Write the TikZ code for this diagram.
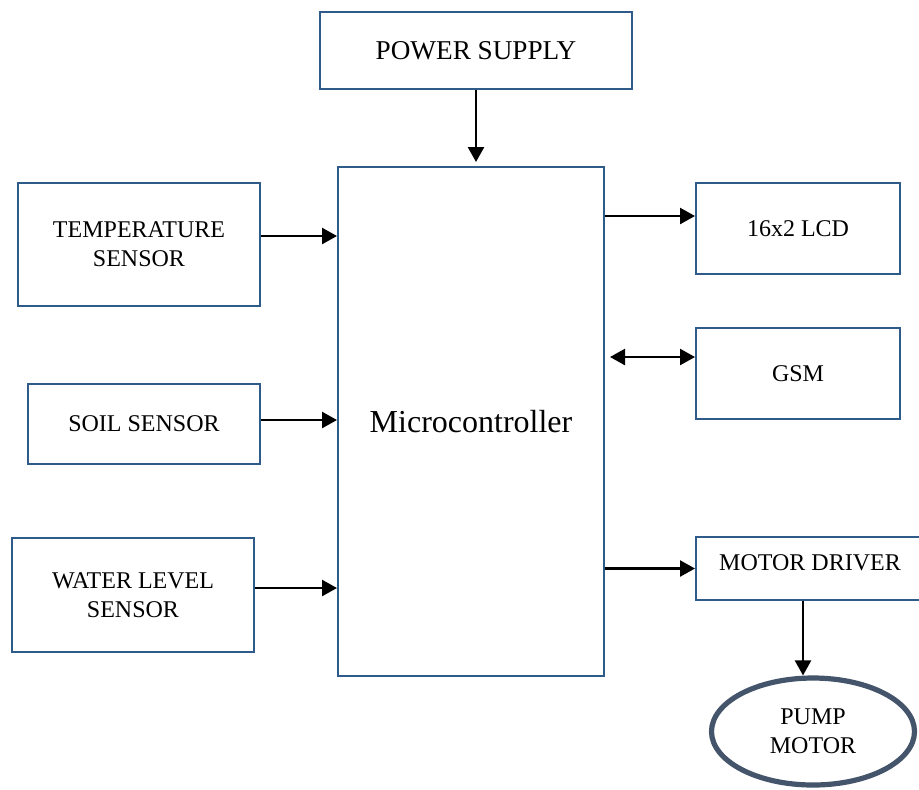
\documentclass[tikz,border=0pt]{standalone}
\usepackage{fontspec}
\setmainfont{Liberation Serif}
\usetikzlibrary{arrows.meta,shapes.geometric}
\definecolor{Frame}{HTML}{2F5B8A}
\definecolor{Slate}{HTML}{44546A}

\begin{document}
\begin{tikzpicture}[x=0.5pt,y=-0.5pt,font=\fontsize{12}{14.5}\selectfont,
  block/.style={draw=Frame,line width=1pt,rectangle,align=center,inner sep=2pt},
  link/.style={-{Triangle[length=7.5pt,width=8pt]},line width=1.2pt}]
\clip (0,0) rectangle (919,789);
\node[block,minimum width=156pt,minimum height=38.5pt,font=\fontsize{13.6}{16}\selectfont] (power) at (476,50.5){POWER SUPPLY};
\node[block,minimum width=133pt,minimum height=254.5pt,font=\fontsize{16}{19}\selectfont] (mcu) at (471,421.5){Microcontroller};
\node[block,minimum width=121pt,minimum height=61.5pt] (temp) at (139,244.5){TEMPERATURE\\SENSOR};
\node[block,minimum width=116pt,minimum height=40pt] (soil) at (144,424){SOIL SENSOR};
\node[block,minimum width=121pt,minimum height=57pt] (water) at (133,595){WATER LEVEL\\SENSOR};
\node[block,minimum width=102pt,minimum height=45.5pt] (lcd) at (798,228.5){16x2 LCD};
\node[block,minimum width=102pt,minimum height=45.5pt] (gsm) at (798,373.5){GSM};
\node[block,minimum width=114pt,minimum height=31.5pt,text depth=5.5pt] (driver) at (810,568.5){MOTOR DRIVER};
\node[ellipse,draw=Slate,line width=2.6pt,minimum width=101.5pt,minimum height=53.5pt,align=center] (pump) at (813,731.5){PUMP\\MOTOR};
% links
\draw[link] (power.south) -- ([yshift=2pt]power.south |- mcu.north);
\draw[link] ([yshift=4.25pt]temp.east) -- ([yshift=4.25pt]temp.east -| mcu.west);
\draw[link] ([yshift=2pt]soil.east) -- ([yshift=2pt]soil.east -| mcu.west);
\draw[link] ([yshift=3.5pt]water.east) -- ([yshift=3.5pt]water.east -| mcu.west);
\draw[link] ([yshift=6.25pt]lcd.west -| mcu.east) -- ([yshift=6.25pt]lcd.west);
\draw[link,{Triangle[length=7.5pt,width=8pt]}-{Triangle[length=7.5pt,width=8pt]}] ([xshift=2.5pt,yshift=8.25pt]gsm.west -| mcu.east) -- ([yshift=8.25pt]gsm.west);
\draw[link] (driver.west -| mcu.east) -- (driver.west);
\draw[link] ([xshift=-3.5pt]driver.south) -- ([xshift=-3.5pt]driver.south |- pump.north);
\end{tikzpicture}
\end{document}
